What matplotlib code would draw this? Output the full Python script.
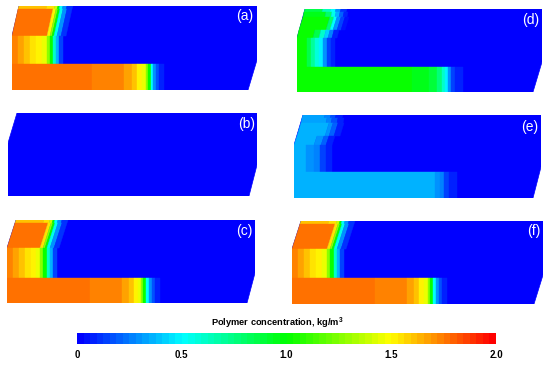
import matplotlib
matplotlib.use('Agg')
import matplotlib.pyplot as plt
import numpy as np
from matplotlib.colors import LinearSegmentedColormap, Normalize

plt.rcParams['font.family'] = ['Liberation Sans', 'DejaVu Sans']

# colour scale
tick_values = [0, 0.5, 1.0, 1.5, 2.0]
tick_labels = ['0', '0.5', '1.0', '1.5', '2.0']
scale_colors = ['#0000ff', '#00ffff', '#00ff00', '#ffff00', '#ff0000']
scale_steps = 64

# concentration bands: (end of band along the layer, kg/m3), anything past the last one is 0
a_top = [(28, 1.62), (36, 1.55), (39, 1.4), (41, 1.0), (44, 0.5), (48, 0.3), (54, 0.12)]
a_upper = [(35, 1.76), (38, 1.5), (40, 1.25), (42, 1.0), (45, 0.55), (49, 0.3), (54, 0.12)]
a_mid = [(6, 1.72), (12, 1.66), (18, 1.62), (24, 1.56), (30, 1.5), (35, 1.44), (38, 1.25), (41, 1.0),
         (44, 0.6), (47, 0.35), (51, 0.15)]
a_lower = [(80, 1.78), (112, 1.72), (120, 1.66), (125, 1.6), (130, 1.52), (134, 1.44), (136, 1.25), (139, 1.0),
           (141, 0.5), (144, 0.3), (147, 0.18), (152, 0.08)]

c_top = [(28, 1.62), (34, 1.55), (37, 1.4), (39, 1.0), (42, 0.5), (46, 0.3), (52, 0.12)]
c_upper = [(33, 1.78), (36, 1.55), (38, 1.25), (40, 1.0), (43, 0.55), (47, 0.3), (52, 0.12)]
c_mid = [(6, 1.72), (12, 1.66), (18, 1.62), (24, 1.56), (29, 1.5), (33, 1.44), (36, 1.25), (40, 1.0),
         (43, 0.6), (46, 0.35), (50, 0.15)]
c_lower = [(83, 1.78), (115, 1.72), (122, 1.66), (127, 1.6), (131, 1.52), (134, 1.44), (136, 1.25), (139, 1.0),
           (142, 0.5), (145, 0.3), (148, 0.18), (153, 0.08)]

f_top = [(28, 1.62), (36, 1.55), (39, 1.4), (41, 1.0), (44, 0.5), (48, 0.3), (54, 0.12)]
f_upper = [(35, 1.78), (38, 1.55), (40, 1.25), (42, 1.0), (45, 0.55), (49, 0.3), (54, 0.12)]
f_mid = [(6, 1.72), (12, 1.66), (18, 1.62), (24, 1.56), (30, 1.5), (35, 1.44), (38, 1.25), (42, 1.0),
         (45, 0.6), (48, 0.35), (52, 0.15)]
f_lower = [(83, 1.78), (115, 1.72), (122, 1.66), (127, 1.6), (132, 1.52), (136, 1.44), (138, 1.25), (141, 1.0),
           (144, 0.5), (147, 0.3), (150, 0.18), (155, 0.08)]

d_top = [(18, 0.85), (26, 0.65), (31, 0.5), (36, 0.3), (42, 0.12)]
d_upper_high = [(22, 0.95), (28, 0.8), (32, 0.55), (36, 0.35), (40, 0.2), (44, 0.08)]
d_upper = [(27, 1.0), (31, 0.8), (34, 0.5), (38, 0.3), (42, 0.15), (46, 0.06)]
d_upper_low = [(16, 1.0), (22, 0.85), (27, 0.6), (31, 0.42), (35, 0.25), (40, 0.08)]
d_mid = [(10, 1.0), (14, 0.85), (18, 0.7), (22, 0.58), (26, 0.48), (30, 0.3), (34, 0.15), (38, 0.08)]
d_lower = [(115, 1.0), (132, 0.96), (140, 0.88), (145, 0.75), (148, 0.6), (151, 0.48), (154, 0.3),
           (158, 0.15), (166, 0.07)]

e_top = [(22, 0.32), (28, 0.26), (33, 0.18), (40, 0.08)]
e_upper_high = [(25, 0.33), (30, 0.28), (36, 0.18), (42, 0.08)]
e_upper = [(28, 0.35), (32, 0.3), (37, 0.2), (43, 0.08)]
e_upper_low = [(20, 0.35), (27, 0.3), (32, 0.2), (38, 0.08)]
e_mid = [(12, 0.35), (20, 0.3), (26, 0.25), (32, 0.15), (38, 0.08)]
e_lower = [(141, 0.35), (146, 0.3), (150, 0.25), (155, 0.15), (163, 0.07)]

panel_names = ['(a)', '(b)', '(c)', '(d)', '(e)', '(f)']
panel_rows = [
    [a_top, a_upper],
    [],
    [c_top, c_upper],
    [d_top, d_upper_high, d_upper, d_upper_low],
    [e_top, e_upper_high, e_upper, e_upper_low],
    [f_top, f_upper],
]
panel_mid = [a_mid, [], c_mid, d_mid, e_mid, f_mid]
panel_lower = [a_lower, [], c_lower, d_lower, e_lower, f_lower]

# layout, pixels of the 550x366 picture
fig_w, fig_h = 550, 366
panel_left = [12, 8, 7, 297, 294, 292]
panel_top = [6, 113, 220, 9, 115, 221]
panel_width = [245, 249, 248, 245, 247, 251]
panel_height = [84, 83, 83, 83, 83, 83]
mid_start = [30, 30, 28, 29, 30, 28]
lower_start = [58, 58, 58, 58, 57, 57]
skew = [7, 9, 9, 8, 9, 9]
right_corner = [54, 52, 53, 53, 52, 54]
right_inset = [9, 8, 8, 9, 8, 9]
label_x = [233, 239, 237, 234, 236, 242]
label_y = [10, 11, 11, 11, 12, 10]
row_depths = [[0, 3], [], [0, 3], [0, 3, 8, 21], [0, 3, 8, 21], [0, 3]]

cmap = LinearSegmentedColormap.from_list('conc', scale_colors, N=scale_steps)
norm = Normalize(vmin=0, vmax=2)


def draw_band(ax, bands, y_top, y_bot, shift_top=0.0, shift_bot=0.0):
    # one layer of cells, sheared by the shifts
    edges = np.array([0] + [b[0] for b in bands], dtype=float)
    values = np.array([[b[1] for b in bands]])
    X = np.vstack([edges + shift_top, edges + shift_bot])
    Y = np.vstack([np.full(edges.shape, y_top), np.full(edges.shape, y_bot)])
    ax.pcolormesh(X, Y, values, cmap=cmap, norm=norm, shading='flat', antialiased=True, linewidth=0.3,
                  edgecolor='face')


fig = plt.figure(figsize=(fig_w / 100, fig_h / 100), dpi=100)

for i in range(6):
    w, h = panel_width[i], panel_height[i]
    ax = fig.add_axes([panel_left[i] / fig_w, 1 - (panel_top[i] + h) / fig_h, w / fig_w, h / fig_h])
    ax.set_xlim(0, w)
    ax.set_ylim(h, 0)
    ax.axis('off')
    # outline of the section
    ax.fill([skew[i], w, w, w - right_inset[i], 0, 0], [0, 0, right_corner[i], h, h, mid_start[i]],
            color='#0000ff', lw=0.5, zorder=0)
    rows = panel_rows[i]
    if rows:
        tops = row_depths[i] + [mid_start[i]]
        for j in range(len(rows)):
            shift_a = skew[i] * (1 - tops[j] / mid_start[i])
            shift_b = skew[i] * (1 - tops[j + 1] / mid_start[i])
            draw_band(ax, rows[j], tops[j], tops[j + 1], shift_a, shift_b)
        draw_band(ax, panel_mid[i], mid_start[i], lower_start[i])
        draw_band(ax, panel_lower[i], lower_start[i], h)
    ax.text(label_x[i], label_y[i], panel_names[i], color='white', fontsize=10, ha='center', va='center')

cax = fig.add_axes([77 / fig_w, 1 - 344 / fig_h, 419 / fig_w, 11 / fig_h])
sm = plt.cm.ScalarMappable(norm=norm, cmap=cmap)
cb = fig.colorbar(sm, cax=cax, orientation='horizontal', ticks=tick_values)
cb.ax.set_xticklabels(tick_labels, fontsize=7, fontweight='bold')
cb.ax.tick_params(length=0, pad=4)
cb.outline.set_visible(False)
fig.text(277 / fig_w, 1 - 323 / fig_h, 'Polymer concentration, kg/m$\\mathregular{^3}$', fontsize=6.7, fontweight='bold',
         ha='center', va='center')

fig.savefig('out.png', dpi=100)
